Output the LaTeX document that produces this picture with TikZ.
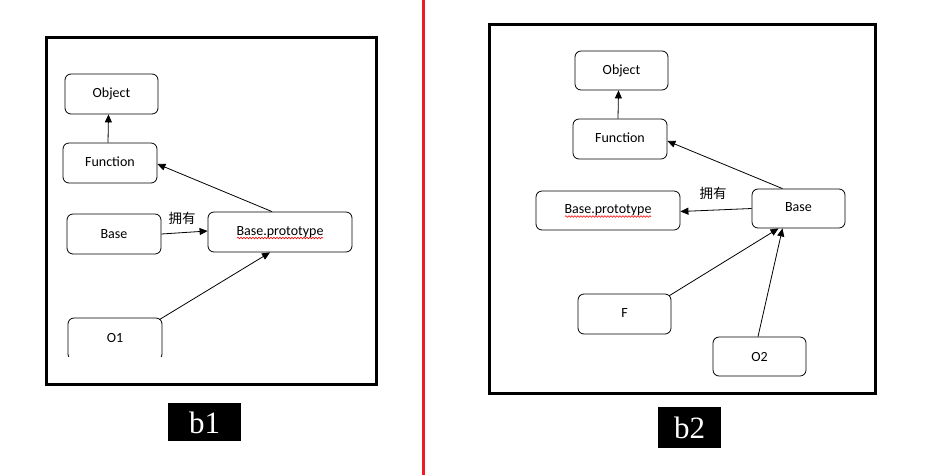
\documentclass[tikz,border=0pt]{standalone}
\usepackage{fontspec}
\setmainfont{Carlito}
\newfontfamily\cjk{Noto Sans CJK SC}
\newfontfamily\labfont{Liberation Serif}
\usetikzlibrary{arrows.meta,decorations.pathmorphing}
\begin{document}
\begin{tikzpicture}[x=1pt,y=-1pt,
  box/.style={draw,line width=0.8pt,rounded corners=6pt,minimum width=93pt,minimum height=40pt,inner sep=0pt,font=\fontsize{14}{16}\selectfont},
  wide/.style={box,minimum width=144pt},
  arr/.style={line width=0.8pt,-{Triangle[length=8pt,width=7pt]}},
  frame/.style={line width=3pt},
  tag/.style={fill=black,text=white,font=\labfont\fontsize{31}{33}\selectfont,inner sep=0pt},
  own/.style={font=\cjk\fontsize{13.5}{15}\selectfont,inner sep=0pt},
  squiggle/.style={draw=red,line width=0.6pt,decorate,decoration={snake,segment length=3pt,amplitude=0.8pt}}]
\useasboundingbox (0,0) rectangle (931,475);
\fill[white] (0,0) rectangle (931,475);
% separator
\draw[line width=3pt,draw={rgb,255:red,237;green,28;blue,36}] (423.5,0) -- (423.5,475);
% frames
\draw[frame] (46,37) rectangle (376,384);
\draw[frame] (489,24) rectangle (875,393);
% left diagram
\node[box,minimum width=93pt] (lobj) at (111.5,94) {\raisebox{2pt}{Object}};
\node[box,minimum width=94pt] (lfun) at (110,163) {\raisebox{2pt}{Function}};
\node[box,minimum width=94pt] (lbase) at (114,234) {Base};
\node[wide] (lproto) at (280,232) {Base.prototype};
\node[box,minimum width=94pt,minimum height=42pt] (lo1) at (115,339) {\raisebox{2pt}{O1}};
\fill[white] (60,357) rectangle (366,364);
\draw[squiggle] ([xshift=-43pt,yshift=-6pt]lproto.center) -- ([xshift=43pt,yshift=-6pt]lproto.center);
\draw[arr] ([xshift=-2pt]lfun.north) -- ([xshift=-3pt]lobj.south);
\draw[arr] ([xshift=-8pt]lproto.north) -- ([yshift=-1pt]lfun.east);
\draw[arr] (lbase.east) -- ([yshift=1pt]lproto.west);
\node[own] (lown) at (182,218) {拥有};
\draw[arr] ([xshift=-3pt,yshift=-2pt]lo1.north east) -- ([xshift=-10pt]lproto.south);
% right diagram
\node[box,minimum height=39pt] (robj) at (621.5,70.5) {\raisebox{2pt}{Object}};
\node[box,minimum width=94pt] (rfun) at (620,139) {\raisebox{2pt}{Function}};
\node[wide,minimum height=39pt] (rproto) at (608,210.5) {Base.prototype};
\node[box,minimum height=39pt] (rbase) at (798.5,208.5) {\raisebox{2pt}{Base}};
\node[box] (rf) at (624.5,314) {\raisebox{2pt}{F}};
\node[box,minimum height=39pt] (ro2) at (759.5,356.5) {O2};
\draw[squiggle] ([xshift=-43pt,yshift=-6pt]rproto.center) -- ([xshift=43pt,yshift=-6pt]rproto.center);
\draw[arr] ([xshift=-2pt]rfun.north) -- ([xshift=-3pt]robj.south);
\draw[arr] ([xshift=-16pt]rbase.north) -- ([yshift=-2pt]rfun.east);
\draw[arr] (rbase.west) -- ([yshift=-1pt]rproto.east);
\node[own] (rown) at (713,193) {拥有};
\draw[arr] ([xshift=-2pt,yshift=-2pt]rf.north east) -- ([xshift=-20pt]rbase.south);
\draw[arr] ([xshift=-1.5pt]ro2.north) -- ([xshift=-16pt]rbase.south);
% tags
\fill (168,403) rectangle (241,441);
\node[tag] (b1) at (204.5,423) {b1};
\fill (658,407) rectangle (721,448);
\node[tag] (b2) at (689.5,428) {b2};
\end{tikzpicture}
\end{document}
